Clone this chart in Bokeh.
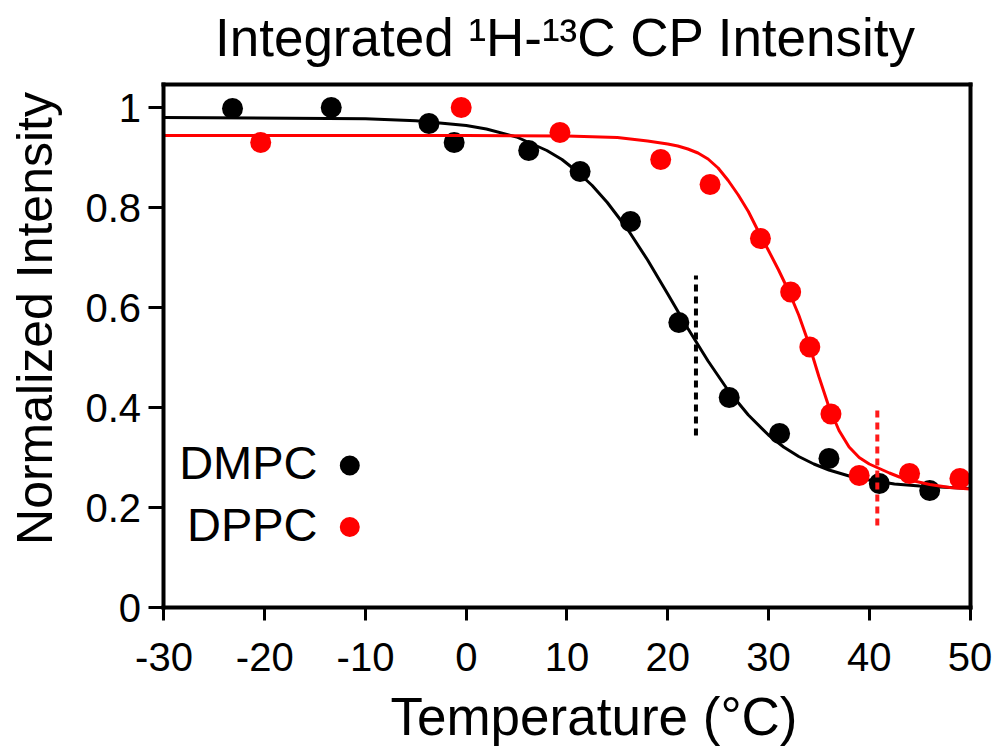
import numpy as np
from bokeh.plotting import figure
from bokeh.models import Label, FixedTicker, Range1d, LinearAxis
from bokeh.embed import file_html
from bokeh.resources import INLINE

# ---- data ----
dmpc_temp = [-23.2, -13.4, -3.7, -1.2, 6.2, 11.3, 16.3, 21.1, 26.1, 31.1, 36.0, 41.0, 46.0]
dmpc_int = [0.998, 1.0, 0.968, 0.930, 0.914, 0.872, 0.772, 0.570, 0.420, 0.348, 0.298, 0.248, 0.234]

dppc_temp = [-20.4, -0.5, 9.3, 19.3, 24.2, 29.2, 32.2, 34.1, 36.2, 39.0, 44.0, 49.0]
dppc_int = [0.930, 1.0, 0.950, 0.896, 0.846, 0.738, 0.631, 0.521, 0.387, 0.264, 0.268, 0.258]

# fitted curves
dmpc_fit_temp = [-30, -10, -5, 0, 2, 5, 8, 9.5, 11, 12.5, 14, 16, 18, 20, 22, 24, 26, 28, 30,
                 31.5, 33, 34.5, 36, 38, 40, 42.5, 45, 50]
dmpc_fit_int = [0.980, 0.9775, 0.9736, 0.964, 0.957, 0.941, 0.914, 0.896, 0.872, 0.844, 0.810,
                0.757, 0.695, 0.627, 0.558, 0.493, 0.434, 0.385, 0.345, 0.321, 0.302, 0.287,
                0.275, 0.263, 0.255, 0.247, 0.243, 0.238]

dppc_fit_temp = [-30, 0, 10, 15, 18, 20, 21, 22, 23, 24, 25, 26, 27, 28, 29, 30, 31, 32, 33,
                 34, 35, 36, 37, 38, 39, 40, 41, 42, 43, 44, 46, 48, 50]
dppc_fit_int = [0.944, 0.944, 0.943, 0.940, 0.933, 0.927, 0.923, 0.917, 0.909, 0.897, 0.879,
                0.854, 0.825, 0.792, 0.752, 0.714, 0.675, 0.633, 0.585, 0.528, 0.462, 0.401,
                0.354, 0.321, 0.300, 0.287, 0.278, 0.269, 0.261, 0.255, 0.246, 0.240, 0.237]

# transition temperatures (dashed markers)
tm_temp = [22.8, 40.8]
tm_low = [0.344, 0.164]
tm_high = [0.664, 0.404]
tm_colors = ["black", "#ff1a1a"]

x_ticks = [-30, -20, -10, 0, 10, 20, 30, 40, 50]
y_ticks = [0, 0.2, 0.4, 0.6, 0.8, 1.0]
y_tick_labels = ["0", "0.2", "0.4", "0.6", "0.8", "1"]
x_min, x_max = -30, 50
y_min, y_max = 0, 1.046

series_names = ["DMPC", "DPPC"]
series_colors = ["black", "#ff0000"]

FONT = "Liberation Sans"

# the frame covers the whole canvas; the axes are drawn at fixed data locations
p = figure(width=1007, height=748, output_backend="svg", toolbar_location=None, title=None,
           x_range=Range1d(-46.228, 53.722), y_range=Range1d(-0.282, 1.214),
           x_axis_location=None, y_axis_location=None,
           min_border_left=0, min_border_right=0, min_border_top=0, min_border_bottom=0)

p.grid.visible = False
p.background_fill_color = "white"
p.border_fill_color = "white"
p.outline_line_color = None


def style_axis(ax, tick_out, standoff):
    ax.axis_line_width = 4
    ax.axis_line_color = "black"
    ax.axis_line_cap = "square"
    ax.major_tick_line_width = 3
    ax.major_tick_line_color = "black"
    ax.major_tick_in = 0
    ax.major_tick_out = tick_out
    ax.minor_tick_line_color = None
    ax.major_label_text_font = FONT
    ax.major_label_text_font_size = "40px"
    ax.major_label_text_color = "black"
    ax.major_label_standoff = standoff


xaxis = LinearAxis(fixed_location=y_min, bounds=(x_min, x_max), ticker=FixedTicker(ticks=x_ticks),
                   major_label_overrides={t: str(t) for t in x_ticks})
style_axis(xaxis, 13, 22)
p.add_layout(xaxis, "below")

yaxis = LinearAxis(fixed_location=x_min, bounds=(y_min, y_max), ticker=FixedTicker(ticks=y_ticks),
                   major_label_overrides={t: l for t, l in zip(y_ticks, y_tick_labels)})
style_axis(yaxis, 15, 8)
p.add_layout(yaxis, "left")

# top and right border of the box
top_border = LinearAxis(fixed_location=y_max, bounds=(x_min, x_max), ticker=FixedTicker(ticks=[]))
style_axis(top_border, 0, 0)
top_border.major_label_text_color = None
p.add_layout(top_border, "above")

right_border = LinearAxis(fixed_location=x_max, bounds=(y_min, y_max), ticker=FixedTicker(ticks=[]))
style_axis(right_border, 0, 0)
right_border.major_label_text_color = None
p.add_layout(right_border, "right")

# fit curves and data
p.line(dmpc_fit_temp, dmpc_fit_int, line_color=series_colors[0], line_width=3)
p.scatter(dmpc_temp, dmpc_int, size=21, fill_color=series_colors[0], line_color=None)
p.line(dppc_fit_temp, dppc_fit_int, line_color=series_colors[1], line_width=3)
p.scatter(dppc_temp, dppc_int, size=21, fill_color=series_colors[1], line_color=None)

# transition markers
p.segment(x0=tm_temp, y0=tm_low, x1=tm_temp, y1=tm_high, line_color=tm_colors,
          line_width=4, line_dash="7 5")

# legend (text left, dot right)
legend_text_x = -14.76
legend_dot_x = [-11.56, -11.56]
legend_y = [0.284, 0.161]
legend_text_y = [0.291, 0.166]
p.scatter(legend_dot_x, legend_y, size=20, fill_color=series_colors, line_color=None)
for name, yc in zip(series_names, legend_text_y):
    p.add_layout(Label(x=legend_text_x, y=yc, text=name, text_font=FONT,
                       text_font_size="47px", text_align="right",
                       text_baseline="middle", text_color="black"))

# title and axis labels
p.add_layout(Label(x=9.85, y=1.141, text="Integrated \u00b9H-\u00b9\u00b3C CP Intensity",
                   text_font=FONT, text_font_size="53px", text_align="center",
                   text_baseline="middle", text_color="black"))
p.add_layout(Label(x=12.68, y=-0.218, text="Temperature (\u00b0C)", text_font=FONT,
                   text_font_size="53px", text_align="center", text_baseline="middle",
                   text_color="black"))
p.add_layout(Label(x=-42.85, y=0.578, text="Normalized Intensity", text_font=FONT,
                   text_font_size="50px", text_align="center", text_baseline="middle",
                   angle=np.pi / 2, text_color="black"))

open("out.html", "w").write(file_html(p, INLINE))
